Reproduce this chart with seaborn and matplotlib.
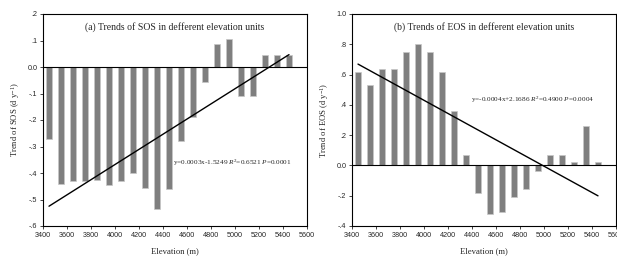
import numpy as np
import pandas as pd
import matplotlib
matplotlib.use("Agg")
import matplotlib.pyplot as plt
import seaborn as sns

# ==========================
# DATA
# ==========================
elevation = [3450, 3550, 3650, 3750, 3850, 3950, 4050, 4150, 4250, 4350, 4450,
             4550, 4650, 4750, 4850, 4950, 5050, 5150, 5250, 5350, 5450]

sos_trend = [-0.27, -0.44, -0.43, -0.43, -0.425, -0.445, -0.43, -0.40, -0.455, -0.535, -0.46,
             -0.28, -0.19, -0.055, 0.087, 0.105, -0.11, -0.11, 0.045, 0.045, 0.045]

eos_trend = [0.62, 0.53, 0.64, 0.64, 0.75, 0.80, 0.75, 0.62, 0.36, 0.07, -0.185,
             -0.32, -0.305, -0.21, -0.155, -0.04, 0.07, 0.07, 0.02, 0.26, 0.02]

# fitted lines (slope, intercept) as drawn
sos_fit = (0.000286, -1.512)
eos_fit = (-0.000435, 2.170)

sos_eq = "y=0.0003x-1.5249 $R^2$=0.6521 $P$=0.0001"
eos_eq = "y=-0.0004x+2.1686 $R^2$=0.4900 $P$=0.0004"

sos_yticks = [-0.6, -0.5, -0.4, -0.3, -0.2, -0.1, 0.0, 0.1, 0.2]
sos_ylabels = ["-.6", "-.5", "-.4", "-.3", "-.2", "-.1", "0.0", ".1", ".2"]
eos_yticks = [-0.4, -0.2, 0.0, 0.2, 0.4, 0.6, 0.8, 1.0]
eos_ylabels = ["-.4", "-.2", "0.0", ".2", ".4", ".6", ".8", "1.0"]
xticks = list(range(3400, 5601, 200))

df = pd.DataFrame({"Elevation": elevation, "SOS": sos_trend, "EOS": eos_trend})

# ==========================
# STYLE
# ==========================
sns.set_style("ticks")
plt.rcParams["font.family"] = ["Liberation Sans", "DejaVu Sans"]
plt.rcParams["mathtext.fontset"] = "custom"
plt.rcParams["mathtext.rm"] = "Liberation Serif"
plt.rcParams["mathtext.it"] = "Liberation Serif:italic"

serif = ["Liberation Serif", "DejaVu Serif"]

fig = plt.figure(figsize=(6.17, 2.59), dpi=100)
ax1 = fig.add_axes([43 / 617, 1 - 226 / 259, 264 / 617, 212 / 259])
ax2 = fig.add_axes([352 / 617, 1 - 226 / 259, 264 / 617, 212 / 259])

panels = [
    (ax1, "SOS", sos_fit, sos_eq, (4480, -0.36), sos_yticks, sos_ylabels,
     "(a) Trends of SOS in defferent elevation units", "Trend of SOS (d y$^{-1}$)"),
    (ax2, "EOS", eos_fit, eos_eq, (4390, 0.43), eos_yticks, eos_ylabels,
     "(b) Trends of EOS in defferent elevation units", "Trend of EOS (d y$^{-1}$)"),
]

for ax, col, fit, eq, eq_pos, yt, yl, title, ylab in panels:
    sns.barplot(data=df, x="Elevation", y=col, native_scale=True, width=0.56,
                color="#7f7f7f", saturation=1, errorbar=None,
                edgecolor="#c8c8c8", linewidth=0.5, ax=ax)

    ax.axhline(0, color="black", lw=0.8, zorder=3)

    xs = np.array([elevation[0], elevation[-1]])
    ax.plot(xs, fit[0] * xs + fit[1], color="black", lw=1.0, zorder=4)

    ax.set_xlim(3400, 5600)
    ax.set_ylim(yt[0], yt[-1])
    ax.set_xticks(xticks)
    ax.set_xticklabels([str(t) for t in xticks])
    ax.set_yticks(yt)
    ax.set_yticklabels(yl)
    ax.tick_params(labelsize=5.2, length=2.5, width=0.6, pad=1.5, direction="out",
                   labelfontfamily="Liberation Sans")

    for s in ax.spines.values():
        s.set_visible(True)
        s.set_linewidth(0.8)
        s.set_color("black")

    ax.text(0.5, 0.94, title, transform=ax.transAxes, ha="center", va="center",
            fontsize=7, family=serif)
    ax.text(eq_pos[0], eq_pos[1], eq, ha="left", va="center", fontsize=5.2,
            family=serif)

    ax.set_xlabel("Elevation (m)", fontsize=6.2, family=serif, labelpad=6)
    ax.set_ylabel(ylab, fontsize=6.2, family=serif, labelpad=4)

fig.savefig("out.png", dpi=100)
